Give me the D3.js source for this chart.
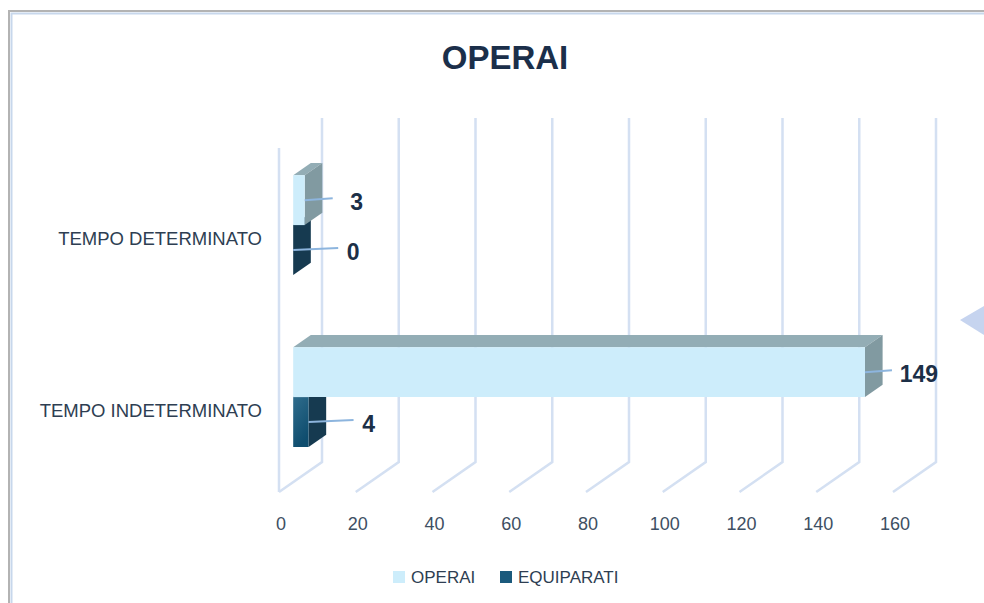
<!DOCTYPE html>
<html>
<head>
<meta charset="utf-8">
<script src="https://cdn.jsdelivr.net/npm/d3@7"></script>
<style>
  body { margin: 0; background: #fff; }
  svg { display: block; }
</style>
</head>
<body>
<div id="chart"></div>
<script>
// data
const categories = ["TEMPO DETERMINATO", "TEMPO INDETERMINATO"];
const seriesNames = ["OPERAI", "EQUIPARATI"];
const operai = [3, 149];
const equiparati = [0, 4];
const xTicks = [0, 20, 40, 60, 80, 100, 120, 140, 160];

const width = 984;
const height = 603;

// 3d look: oblique offset of the back plane
const DX = 43, DY = -30;
const plot = { left: 279, right: 893, top: 148, bottom: 492 };
const barDepth = [0.33, 0.74];

// leader line length / label offset, per series then category
const labelLayout = {
    OPERAI: [{ lead: 28, dx: 52 }, { lead: 27, dx: 54 }],
    EQUIPARATI: [{ lead: 45, dx: 60 }, { lead: 45, dx: 60 }]
};

const colors = {
    OPERAI: { front: "#cdedfb", top: "#93adb5", side: "#819aa1" },
    EQUIPARATI: { front: "url(#eqGrad)", top: "#1d4a63", side: "#163a50" }
};

const svg = d3.select("#chart")
    .append("svg")
    .attr("width", width)
    .attr("height", height)
    .style("font-family", "'Liberation Sans', Arial, sans-serif");

const defs = svg.append("defs");
const grad = defs.append("linearGradient")
    .attr("id", "eqGrad")
    .attr("x1", 0).attr("y1", 0).attr("x2", 0.4).attr("y2", 1);
grad.append("stop").attr("offset", "0%").attr("stop-color", "#2f6c8c");
grad.append("stop").attr("offset", "100%").attr("stop-color", "#0f4d6e");

// frame
svg.append("rect")
    .attr("x", 9).attr("y", 11)
    .attr("width", width + 20).attr("height", height + 20)
    .attr("fill", "#fff")
    .attr("stroke", "#b3b3b3")
    .attr("stroke-width", 2);
svg.append("rect")
    .attr("x", 11.5).attr("y", 13.5)
    .attr("width", width + 20).attr("height", height + 20)
    .attr("fill", "none")
    .attr("stroke", "#c7d7ec")
    .attr("stroke-width", 2);

// decorative triangle at the right edge
svg.append("polygon")
    .attr("points", "960,320 984,306 984,335")
    .attr("fill", "#c6d4ef");

// title
svg.append("text")
    .attr("x", 505)
    .attr("y", 69)
    .attr("text-anchor", "middle")
    .attr("font-size", 33)
    .attr("font-weight", "bold")
    .attr("fill", "#1b2f4a")
    .text("OPERAI");

// scales
const xScale = d3.scaleLinear()
    .domain([0, 160])
    .range([plot.left, plot.right]);

const yScale = d3.scaleBand()
    .domain(categories)
    .range([plot.top + 1, plot.bottom + 1])
    .paddingInner(0.42)
    .paddingOuter(0.21);

const ySeries = d3.scaleBand()
    .domain(seriesNames)
    .range([0, yScale.bandwidth()]);

function P(x, y, d) {
    return [x + d * DX, y + d * DY];
}
const line = d3.line();

// gridlines (back wall + floor)
const grid = svg.append("g")
    .attr("fill", "none")
    .attr("stroke", "#d4e0f2")
    .attr("stroke-width", 2.5);

xTicks.forEach(function (t) {
    const x = xScale(t);
    grid.append("path")
        .attr("d", line([P(x, plot.bottom, 0), P(x, plot.bottom, 1), P(x, plot.top, 1)]));
});
// left wall front edge
grid.append("path")
    .attr("d", line([P(xScale(0), plot.top, 0), P(xScale(0), plot.bottom, 0)]));

// tick labels
svg.append("g")
    .selectAll("text")
    .data(xTicks)
    .enter()
    .append("text")
    .attr("x", function (d) { return xScale(d) + 2; })
    .attr("y", 530)
    .attr("text-anchor", "middle")
    .attr("font-size", 18)
    .attr("fill", "#3e4f63")
    .text(function (d) { return d; });

// category labels
svg.append("g")
    .selectAll("text")
    .data(categories)
    .enter()
    .append("text")
    .attr("x", 262)
    .attr("y", function (d) { return yScale(d) + yScale.bandwidth() / 2 + 10; })
    .attr("text-anchor", "end")
    .attr("font-size", 18.5)
    .attr("fill", "#2e3e52")
    .text(function (d) { return d; });

// bars: build list, draw lower series first so the upper one covers it
const bars = [];
categories.forEach(function (c, i) {
    bars.push({ cat: c, i: i, series: "EQUIPARATI", value: equiparati[i] });
    bars.push({ cat: c, i: i, series: "OPERAI", value: operai[i] });
});

const d0 = barDepth[0], d1 = barDepth[1];
const barG = svg.append("g");

bars.forEach(function (b) {
    const x0 = xScale(0), x1 = xScale(b.value);
    const y0 = yScale(b.cat) + ySeries(b.series);
    const y1 = y0 + ySeries.bandwidth();
    const col = colors[b.series];

    // top face
    barG.append("path")
        .attr("d", line([P(x0, y0, d0), P(x1, y0, d0), P(x1, y0, d1), P(x0, y0, d1)]) + "Z")
        .attr("fill", col.top);
    // side face
    barG.append("path")
        .attr("d", line([P(x1, y0, d0), P(x1, y1, d0), P(x1, y1, d1), P(x1, y0, d1)]) + "Z")
        .attr("fill", col.side);
    // front face
    if (b.value > 0) {
        barG.append("path")
            .attr("d", line([P(x0, y0, d0), P(x1, y0, d0), P(x1, y1, d0), P(x0, y1, d0)]) + "Z")
            .attr("fill", col.front);
    }
});

// data labels with leader lines
bars.forEach(function (b) {
    const lay = labelLayout[b.series][b.i];
    const y0 = yScale(b.cat) + ySeries(b.series);
    const ym = y0 + ySeries.bandwidth() / 2;
    const start = P(xScale(b.value), ym, d0);

    svg.append("path")
        .attr("d", line([start, [start[0] + lay.lead, start[1] - 2]]))
        .attr("stroke", "#8db5de")
        .attr("stroke-width", 2)
        .attr("fill", "none");

    svg.append("text")
        .attr("x", start[0] + lay.dx)
        .attr("y", start[1] + 10)
        .attr("text-anchor", "middle")
        .attr("font-size", 23)
        .attr("font-weight", "bold")
        .attr("fill", "#1c2f47")
        .text(b.value);
});

// legend
const legend = svg.append("g");
const legendItems = [
    { name: "OPERAI", x: 393, fill: "#cdedfb" },
    { name: "EQUIPARATI", x: 500, fill: "#1b5a7c" }
];
legendItems.forEach(function (d) {
    legend.append("rect")
        .attr("x", d.x).attr("y", 571)
        .attr("width", 12).attr("height", 12)
        .attr("fill", d.fill);
    legend.append("text")
        .attr("x", d.x + 18)
        .attr("y", 583)
        .attr("font-size", 17)
        .attr("fill", "#2e3e52")
        .text(d.name);
});
</script>
</body>
</html>
